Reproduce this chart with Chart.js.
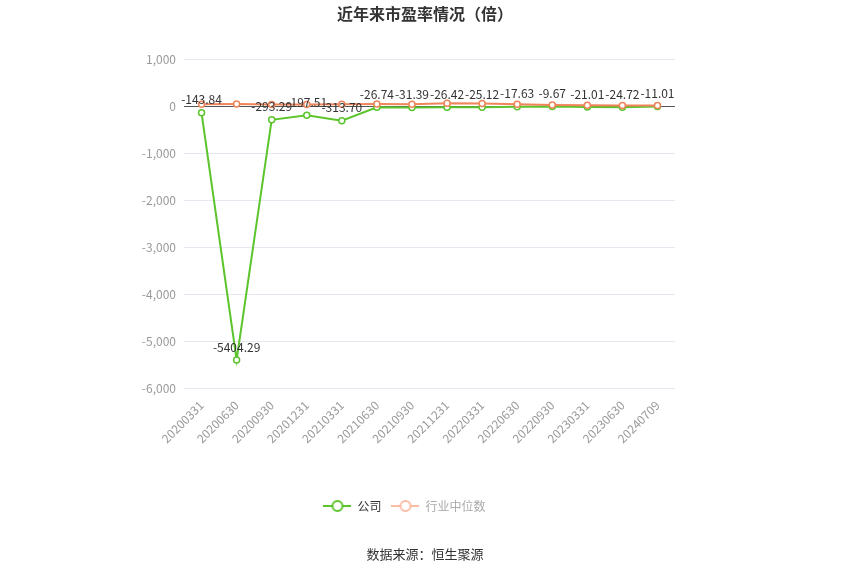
<!DOCTYPE html>
<html>
<head>
<meta charset="utf-8">
<script src="https://cdn.jsdelivr.net/npm/chart.js@4.4.0/dist/chart.umd.min.js"></script>
<style>
  html, body { margin: 0; padding: 0; background: #fff; }
  #wrap { width: 850px; height: 575px; position: relative; }
</style>
</head>
<body>
<div id="wrap"><canvas id="peChart" width="850" height="575"></canvas></div>
<script>
// datos del grafico
const categorias = ['20200331', '20200630', '20200930', '20201231', '20210331', '20210630', '20210930',
    '20211231', '20220331', '20220630', '20220930', '20230331', '20230630', '20240709'];
const valoresEmpresa = [-143.84, -5404.29, -293.29, -197.51, -313.70, -26.74, -31.39,
    -26.42, -25.12, -17.63, -9.67, -21.01, -24.72, -11.01];
const valoresIndustria = [35, 40, 30, 32, 35, 40, 35, 60, 55, 35, 20, 15, 12, 12];
const ticksY = [1000, 0, -1000, -2000, -3000, -4000, -5000, -6000];

const FUENTE = "'Noto Sans CJK SC', 'Noto Sans', sans-serif";
const VERDE = '#5cc42d';
const NARANJA = '#f0845a';

// icono de leyenda: linea con circulo
function iconoLeyenda(color) {
    const c = document.createElement('canvas');
    c.width = 28; c.height = 14;
    const g = c.getContext('2d');
    g.strokeStyle = color;
    g.lineWidth = 2;
    g.beginPath(); g.moveTo(0, 7); g.lineTo(28, 7); g.stroke();
    g.fillStyle = '#fff';
    g.beginPath(); g.arc(14, 7, 5, 0, Math.PI * 2); g.fill(); g.stroke();
    return c;
}

const etiquetasPlugin = {
    id: 'etiquetas',
    afterDatasetsDraw(chart) {
        const ctx = chart.ctx;
        const meta = chart.getDatasetMeta(0);
        ctx.save();
        ctx.font = '12px ' + FUENTE;
        ctx.fillStyle = '#333';
        ctx.textAlign = 'center';
        ctx.textBaseline = 'bottom';
        meta.data.forEach((pt, i) => {
            ctx.fillText(valoresEmpresa[i].toFixed(2), pt.x, pt.y - 7);
        });
        ctx.restore();
    },
    afterDraw(chart) {
        const ctx = chart.ctx;
        ctx.save();
        ctx.textAlign = 'center';
        ctx.textBaseline = 'middle';
        ctx.fillStyle = '#333';
        ctx.font = 'bold 16px ' + FUENTE;
        ctx.fillText('近年来市盈率情况（倍）', 425, 14);
        ctx.font = '13px ' + FUENTE;
        ctx.fillText('数据来源：恒生聚源', 425, 554);
        ctx.restore();
    }
};

const ctx = document.getElementById('peChart').getContext('2d');
new Chart(ctx, {
    type: 'line',
    data: {
        labels: categorias,
        datasets: [
            {
                label: '公司',
                data: valoresEmpresa,
                order: 1,
                borderColor: VERDE,
                backgroundColor: '#fff',
                borderWidth: 2,
                pointRadius: 3,
                pointBorderWidth: 1.5,
                pointBackgroundColor: '#fff',
                pointBorderColor: VERDE,
                tension: 0
            },
            {
                label: '行业中位数',
                data: valoresIndustria,
                order: 0,
                borderColor: NARANJA,
                backgroundColor: '#fff',
                borderWidth: 2,
                pointRadius: 3,
                pointBorderWidth: 1.5,
                pointBackgroundColor: '#fff',
                pointBorderColor: NARANJA,
                tension: 0
            }
        ]
    },
    options: {
        responsive: false,
        animation: false,
        layout: {
            padding: { left: 134, right: 175, top: 59, bottom: 53 }
        },
        plugins: {
            title: { display: false },
            tooltip: { enabled: false },
            legend: {
                display: true,
                position: 'bottom',
                labels: {
                    usePointStyle: true,
                    pointStyleWidth: 28,
                    padding: 10,
                    font: { size: 12, family: FUENTE },
                    generateLabels(chart) {
                        return [
                            { text: '公司', pointStyle: iconoLeyenda(VERDE), fontColor: '#333',
                              strokeStyle: VERDE, fillStyle: '#fff', lineWidth: 0, datasetIndex: 0, hidden: false },
                            { text: '行业中位数', pointStyle: iconoLeyenda('#fbbca5'), fontColor: '#aaa',
                              strokeStyle: NARANJA, fillStyle: '#fff', lineWidth: 0, datasetIndex: 1, hidden: false }
                        ];
                    }
                }
            }
        },
        scales: {
            y: {
                min: -6000,
                max: 1000,
                afterBuildTicks(scale) {
                    scale.ticks = ticksY.map(v => ({ value: v }));
                },
                afterFit(scale) { scale.width = 50; },
                ticks: {
                    color: '#999',
                    padding: 8,
                    font: { size: 12, family: FUENTE },
                    callback: v => v.toLocaleString('en-US')
                },
                grid: {
                    color: c => (c.tick && c.tick.value === 0) ? '#555' : '#e6e8f0',
                    drawTicks: false
                },
                border: { display: false }
            },
            x: {
                offset: true,
                afterFit(scale) { scale.height = 102; },
                ticks: {
                    color: '#999',
                    maxRotation: 45,
                    minRotation: 45,
                    autoSkip: false,
                    padding: 2,
                    font: { size: 12, family: FUENTE }
                },
                grid: { display: false },
                border: { display: false }
            }
        }
    },
    plugins: [etiquetasPlugin]
});
</script>
</body>
</html>
